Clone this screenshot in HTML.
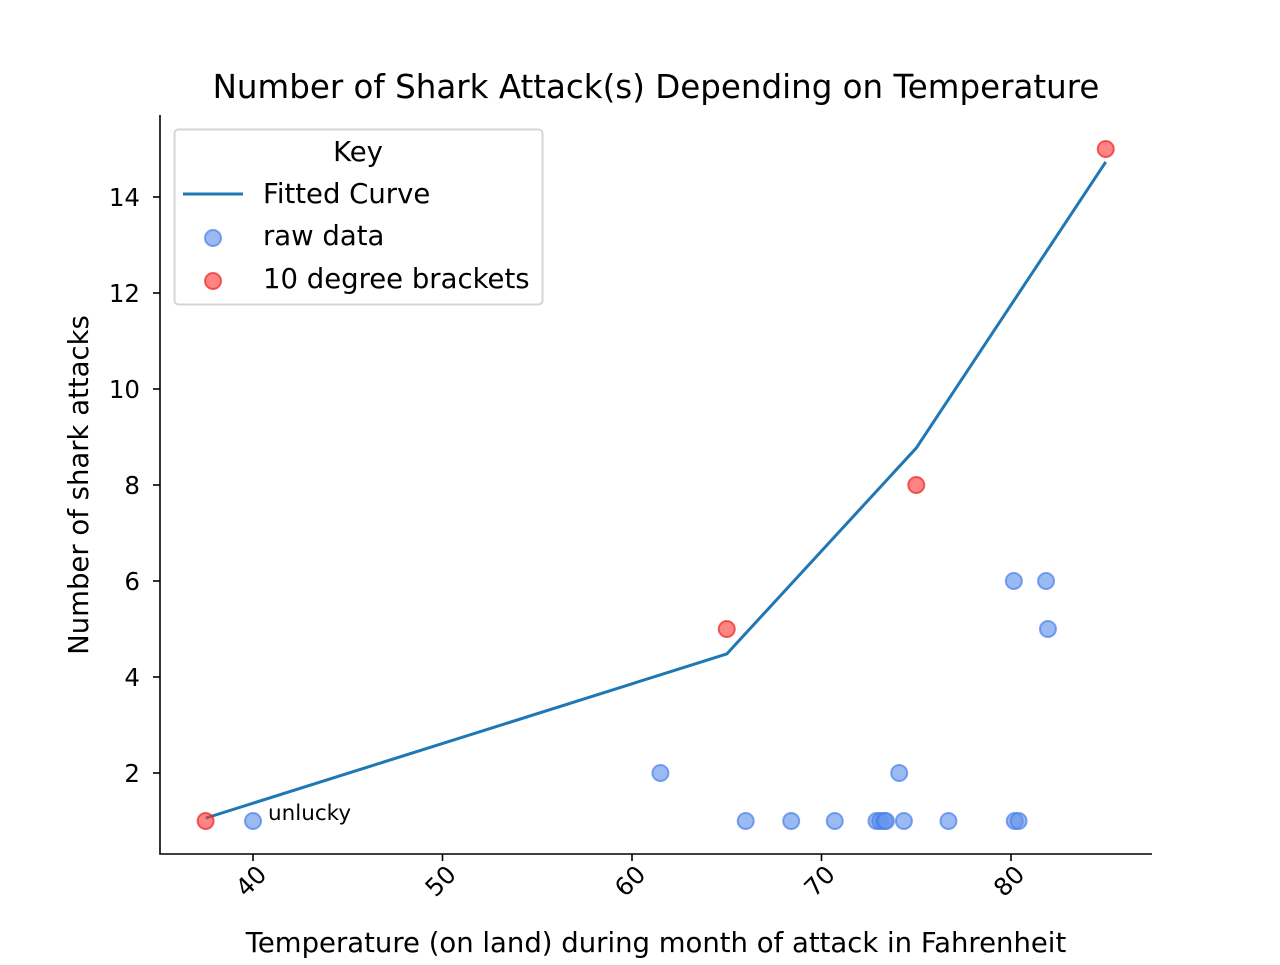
<!DOCTYPE html>
<html><head><meta charset="utf-8"><style>
body{margin:0;background:#fff}
svg text{font-family:"DejaVu Sans","Liberation Sans",sans-serif;fill:#000}
</style></head><body>
<svg id="chart" width="1280" height="960" xmlns="http://www.w3.org/2000/svg">
<text x="656" y="98" font-size="32.5" text-anchor="middle">Number of Shark Attack(s) Depending on Temperature</text>
<g id="plot"></g>
<text x="656" y="952" font-size="27.5" text-anchor="middle">Temperature (on land) during month of attack in Fahrenheit</text>
<text transform="translate(88,485) rotate(-90)" font-size="27.5" text-anchor="middle">Number of shark attacks</text>
<text x="268" y="820" font-size="21.5">unlucky</text>
<g>
<rect x="174.5" y="129.5" width="368" height="175" rx="4" fill="#fff" fill-opacity="0.8" stroke="#d5d5d5" stroke-width="2"/>
<text x="358" y="161" font-size="27.5" text-anchor="middle">Key</text>
<line x1="183" y1="194" x2="243" y2="194" stroke="#1f77b4" stroke-width="3"/>
<text x="263" y="203" font-size="27.5">Fitted Curve</text>
<circle cx="213" cy="238" r="8" fill="#6495ED" fill-opacity="0.65" stroke="#4a7fe8" stroke-opacity="0.7" stroke-width="2"/>
<text x="263" y="245" font-size="27.5">raw data</text>
<circle cx="213" cy="281" r="8" fill="#ff3333" fill-opacity="0.6" stroke="#ee2222" stroke-opacity="0.7" stroke-width="2"/>
<text x="263" y="288" font-size="27.5">10 degree brackets</text>
</g>
</svg>
<script>
const rawX=[40,61.5,66,68.4,70.7,72.9,73.1,73.3,73.4,74.1,74.35,76.7,80.15,80.2,80.4,81.85,81.95];
const rawY=[1,2,1,1,1,1,1,1,1,2,1,1,6,1,1,6,5];
const bracketX=[37.5,65,75,85];
const bracketY=[1,5,8,15];
const fitX=[37.5,65,75,85];
const fitY=[1.06,4.48,8.77,14.73];
const xTicks=[40,50,60,70,80];
const yTicks=[2,4,6,8,10,12,14];
const NS="http://www.w3.org/2000/svg";
const X=v=>253+(v-40)*18.95;
const Y=v=>869-v*48;
const g=document.getElementById('plot');
function mk(t,a){const e=document.createElementNS(NS,t);for(const k in a)e.setAttribute(k,a[k]);g.appendChild(e);return e;}
let sp=mk('path',{d:'M160,115V854H1152',fill:'none',stroke:'#000','stroke-width':1.6});


xTicks.forEach(t=>{
 const l=mk('line',{x1:X(t),x2:X(t),y1:854,y2:861,stroke:'#000','stroke-width':1.6});
 
 
 const tx=mk('text',{transform:`translate(${X(t)+15},876) rotate(-45)`,'font-size':24.5,'text-anchor':'end'});
 tx.textContent=t;
 
 
});
yTicks.forEach(t=>{
 const l=mk('line',{x1:153,x2:160,y1:Y(t),y2:Y(t),stroke:'#000','stroke-width':1.6});
 
 
 const tx=mk('text',{x:140,y:Y(t)+9,'font-size':24.5,'text-anchor':'end'});
 tx.textContent=t;
 
 
});
const fl=mk('polyline',{points:fitX.map((x,i)=>X(x)+','+Y(fitY[i])).join(' '),fill:'none',stroke:'#1f77b4','stroke-width':3});


rawX.forEach((x,i)=>{
 const c=mk('circle',{cx:X(x),cy:Y(rawY[i]),r:8,fill:'#6495ED','fill-opacity':0.65,stroke:'#4a7fe8','stroke-opacity':0.7,'stroke-width':2});
 
 
});
bracketX.forEach((x,i)=>{
 const c=mk('circle',{cx:X(x),cy:Y(bracketY[i]),r:8,fill:'#ff3333','fill-opacity':0.6,stroke:'#ee2222','stroke-opacity':0.7,'stroke-width':2});
 
 
});
</script>
</body></html>
